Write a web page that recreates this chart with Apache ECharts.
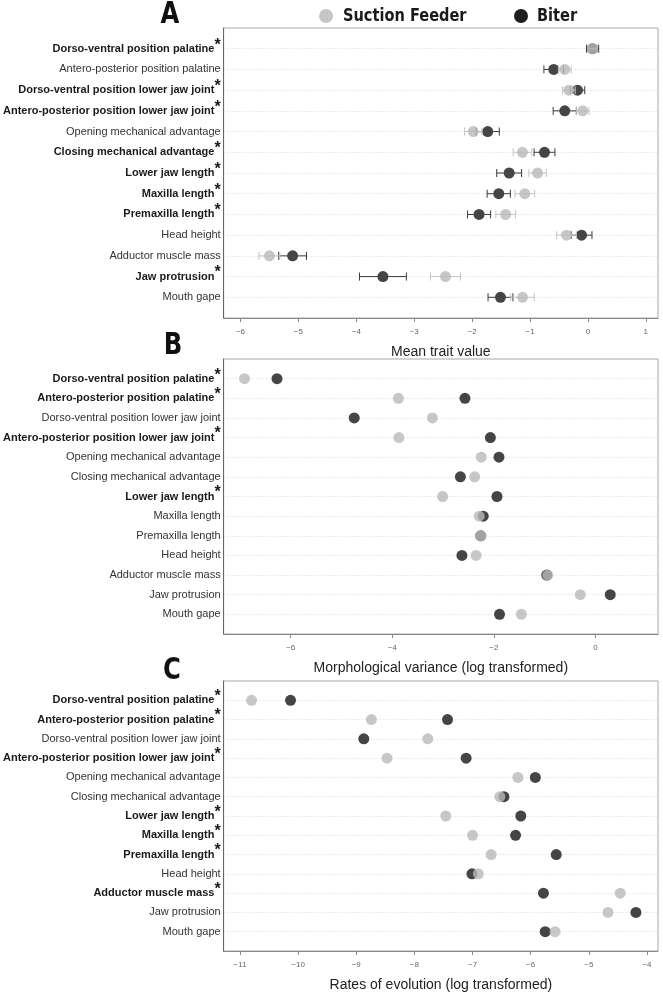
<!DOCTYPE html>
<html>
<head>
<meta charset="utf-8">
<script src="https://cdn.jsdelivr.net/npm/echarts@6/dist/echarts.min.js"></script>
<style>
html,body{margin:0;padding:0;background:#fff;}
#chart{width:663px;height:993px;}
</style>
</head>
<body>
<div id="chart"></div>
<script>
// ---------- data ----------
var traits = ['Dorso-ventral position palatine','Antero-posterior position palatine','Dorso-ventral position lower jaw joint','Antero-posterior position lower jaw joint','Opening mechanical advantage','Closing mechanical advantage','Lower jaw length','Maxilla length','Premaxilla length','Head height','Adductor muscle mass','Jaw protrusion','Mouth gape'];

var sigA = [1,0,1,1,0,1,1,1,1,0,0,1,0];
var sigB = [1,1,0,1,0,0,1,0,0,0,0,0,0];
var sigC = [1,1,0,1,0,0,1,1,1,0,1,0,0];

// Panel A: mean trait value with error bars
var meanSuction = [0.08,-0.40,-0.33,-0.09,-1.98,-1.13,-0.87,-1.09,-1.42,-0.37,-5.50,-2.46,-1.13];
var errSuction  = [0.08,0.11,0.11,0.11,0.15,0.16,0.15,0.17,0.17,0.17,0.18,0.26,0.205];
var meanBiter   = [0.08,-0.59,-0.18,-0.40,-1.73,-0.75,-1.36,-1.54,-1.88,-0.11,-5.10,-3.54,-1.51];
var errBiter    = [0.105,0.17,0.125,0.20,0.20,0.18,0.215,0.20,0.20,0.18,0.24,0.405,0.215];

// Panel B: morphological variance (log)
var varSuction = [-6.91,-3.88,-3.21,-3.87,-2.25,-2.38,-3.01,-2.29,-2.26,-2.35,-0.94,-0.30,-1.46];
var varBiter   = [-6.27,-2.57,-4.75,-2.07,-1.90,-2.66,-1.94,-2.21,-2.26,-2.63,-0.96,0.29,-1.89];

// Panel C: rates of evolution (log)
var rateSuction = [-10.80,-8.74,-7.77,-8.47,-6.22,-6.53,-7.46,-7.00,-6.68,-6.90,-4.46,-4.67,-5.58];
var rateBiter   = [-10.13,-7.43,-8.87,-7.11,-5.92,-6.46,-6.17,-6.26,-5.56,-7.01,-5.78,-4.19,-5.75];

var ticksA = [-6,-5,-4,-3,-2,-1,0,1];
var ticksB = [-6,-4,-2,0];
var ticksC = [-11,-10,-9,-8,-7,-6,-5,-4];

var titleA = 'Mean trait value';
var titleB = 'Morphological variance (log transformed)';
var titleC = 'Rates of evolution (log transformed)';
var legendNames = ['Suction Feeder','Biter'];
var panelLetters = ['A','B','C'];

// ---------- styling ----------
var LIGHT = '#b9b9b9', LIGHT_OP = 0.8, DARK = '#454545';
var FONT = '"Liberation Sans", Arial, sans-serif';
var COND = '"DejaVu Sans Condensed", "Liberation Sans", sans-serif';

var cats = [' '].concat(traits).concat(['  ']);

var grids = [
  {left:223, top:28, width:435, height:290},
  {left:223, top:359, width:435, height:275},
  {left:223, top:681, width:435, height:275}
];
grids.forEach(function(g){ g.show = true; g.borderColor = '#a8a8a8'; g.borderWidth = 1; g.backgroundColor = '#fff'; });

function fmtTick(v){ return v < 0 ? '\u2212' + Math.abs(v) : String(v); }

function makeY(idx, sig){
  return {
    type:'category', gridIndex: idx, data: cats, inverse: true, boundaryGap: false,
    axisLine:{show:true, onZero:false, lineStyle:{color:'#666', width:1}},
    axisTick:{show:false},
    splitLine:{show:true, interval:function(i){ return i > 0 && i < cats.length - 1; }, lineStyle:{type:[1,2], color:'#dcdcdc', width:1}},
    axisLabel:{
      interval:0, margin:3, fontFamily: FONT,
      formatter:function(v, i){
        if (i === 0 || i === cats.length - 1) return '';
        return sig[i-1] ? '{b|' + v + '}{s|*}' : '{n|' + v + '}';
      },
      rich:{
        b:{fontSize:11, fontWeight:'bold', color:'#1a1a1a', fontFamily: FONT, lineHeight:20, verticalAlign:'middle'},
        s:{fontSize:16, fontWeight:'bold', color:'#1a1a1a', fontFamily: FONT, lineHeight:20, padding:[0,0,7,0], verticalAlign:'middle'},
        n:{fontSize:11, color:'#333', fontFamily: FONT, lineHeight:20, verticalAlign:'middle'}
      }
    }
  };
}

function makeX(idx, min, max, ticks, name){
  return {
    type:'value', gridIndex: idx, min: min, max: max,
    name: name, nameLocation:'middle', nameGap: 27,
    nameTextStyle:{fontSize:14, color:'#222', fontFamily: FONT},
    axisLine:{show:true, onZero:false, lineStyle:{color:'#888', width:1}},
    axisTick:{show:true, length:4, customValues: ticks, lineStyle:{color:'#888'}},
    axisLabel:{customValues: ticks, formatter: fmtTick, fontSize:8, color:'#666', margin:10, fontFamily: FONT},
    splitLine:{show:false}
  };
}

function pts(vals){ return vals.map(function(v, i){ return [v, traits[i]]; }); }
function errs(mean, err){ return mean.map(function(m, i){ return [m - err[i], m + err[i], traits[i]]; }); }

function errRender(color){
  return function(params, api){
    var y = api.value(2);
    var p0 = api.coord([api.value(0), y]);
    var p1 = api.coord([api.value(1), y]);
    var h = 4;
    var st = {stroke: color, lineWidth: 1};
    return {type:'group', children:[
      {type:'line', shape:{x1:p0[0], y1:p0[1], x2:p1[0], y2:p1[1]}, style: st},
      {type:'line', shape:{x1:p0[0], y1:p0[1]-h, x2:p0[0], y2:p0[1]+h}, style: st},
      {type:'line', shape:{x1:p1[0], y1:p1[1]-h, x2:p1[0], y2:p1[1]+h}, style: st}
    ]};
  };
}

function dots(idx, vals, color, op, name, z){
  return {type:'scatter', name: name, xAxisIndex: idx, yAxisIndex: idx, data: pts(vals),
    symbol:'circle', symbolSize: 11, z: z,
    itemStyle:{color: color, opacity: op}, emphasis:{disabled:true}, silent:true};
}

var series = [
  {type:'custom', xAxisIndex:0, yAxisIndex:0, data: errs(meanBiter, errBiter), renderItem: errRender('#3a3a3a'), encode:{x:[0,1], y:2}, z:2, silent:true},
  dots(0, meanBiter, DARK, 1, legendNames[1], 3),
  {type:'custom', xAxisIndex:0, yAxisIndex:0, data: errs(meanSuction, errSuction), renderItem: errRender('#c4c4c4'), encode:{x:[0,1], y:2}, z:4, silent:true},
  dots(0, meanSuction, LIGHT, LIGHT_OP, legendNames[0], 5),
  dots(1, varBiter, DARK, 1, legendNames[1], 3),
  dots(1, varSuction, LIGHT, LIGHT_OP, legendNames[0], 5),
  dots(2, rateBiter, DARK, 1, legendNames[1], 3),
  dots(2, rateSuction, LIGHT, LIGHT_OP, legendNames[0], 5)
];

var letterPos = [[170,15],[173,346],[172,671]];
var graphics = panelLetters.map(function(L, i){
  return {type:'text', x: letterPos[i][0], y: letterPos[i][1], scaleX: 0.9,
    style:{text: L, fontSize: 30, fontWeight:'bold', fontFamily: COND, fill:'#111', align:'center', verticalAlign:'middle'}};
});
graphics.push({type:'circle', shape:{cx:326, cy:16, r:7}, style:{fill:'#c6c6c6'}});
graphics.push({type:'text', x:343, y:16, scaleX:0.9, style:{text: legendNames[0], fontSize:18, fontWeight:'bold', fontFamily: COND, fill:'#1a1a1a', verticalAlign:'middle'}});
graphics.push({type:'circle', shape:{cx:521, cy:16, r:7}, style:{fill:'#1e1e1e'}});
graphics.push({type:'text', x:537, y:16, scaleX:0.9, style:{text: legendNames[1], fontSize:18, fontWeight:'bold', fontFamily: COND, fill:'#1a1a1a', verticalAlign:'middle'}});

var chart = echarts.init(document.getElementById('chart'), null, {renderer:'canvas'});
chart.setOption({
  animation:false,
  backgroundColor:'#fff',
  grid: grids,
  xAxis: [makeX(0, -6.29, 1.21, ticksA, titleA), makeX(1, -7.32, 1.23, ticksB, titleB), makeX(2, -11.28, -3.81, ticksC, titleC)],
  yAxis: [makeY(0, sigA), makeY(1, sigB), makeY(2, sigC)],
  series: series,
  graphic: graphics
});
</script>
</body>
</html>
